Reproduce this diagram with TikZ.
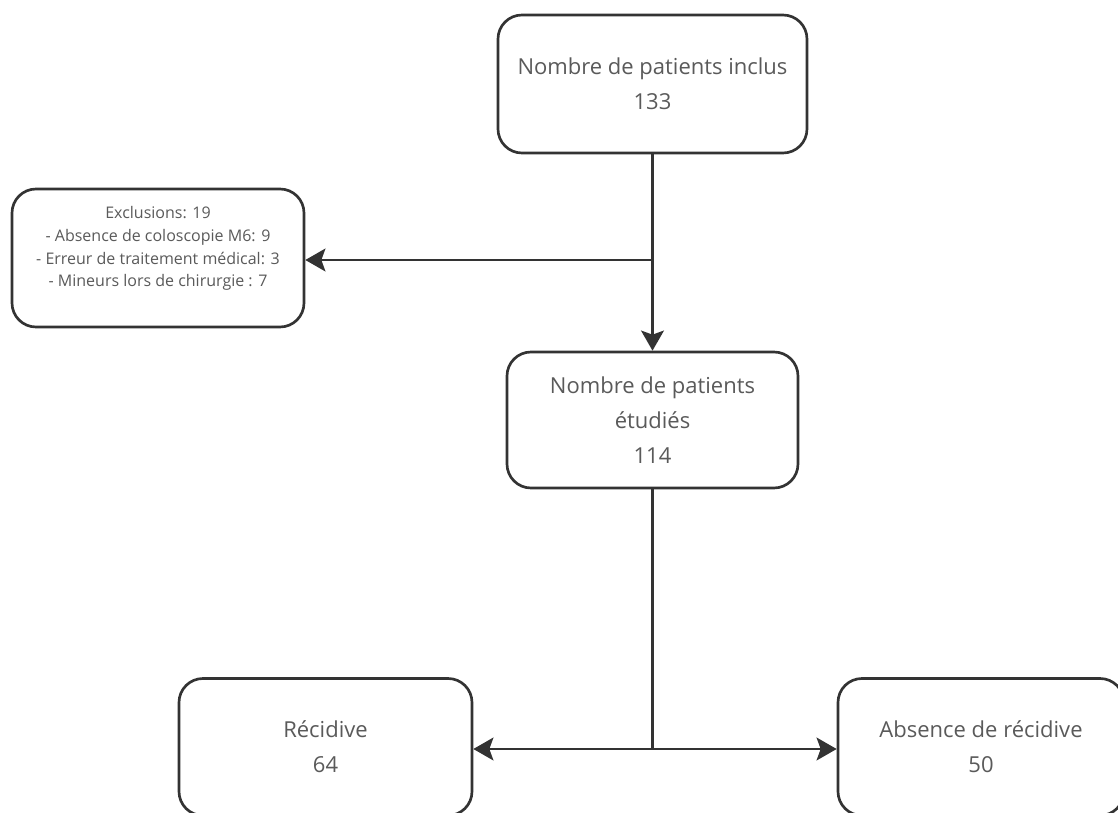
\documentclass[tikz,border=0pt]{standalone}
\usepackage{fontspec}
\setmainfont{Open Sans}
\usetikzlibrary{arrows.meta}
\definecolor{edge}{HTML}{333333}
\definecolor{txt}{HTML}{5A5A5A}
\begin{document}
\begin{tikzpicture}[x=0.75pt,y=-0.75pt,
  box/.style={draw=edge, line width=2pt, rounded corners=18pt, align=center,
    text=txt, inner sep=0pt, font=\fontsize{16.5}{26}\selectfont},
  smallbox/.style={box, font=\fontsize{12}{17}\selectfont},
  conn/.style={draw=edge, line width=2.2pt},
  arr/.style={conn, -{Stealth[length=15pt,width=17pt,inset=3pt]}}]
\clip (0,0) rectangle (1118,813);
\fill[white] (0,0) rectangle (1118,813);
\node[box, minimum width=231.75pt, minimum height=103.5pt] (top) at (652.5,84)
  {Nombre de patients inclus\\133};
\node[smallbox, minimum width=219pt, minimum height=103.5pt] (excl) at (158,258)
  {Exclusions: 19\\- Absence de coloscopie M6: 9\\- Erreur de traitement médical: 3\\- Mineurs lors de chirurgie : 7\\\mbox{}};
\node[box, minimum width=218.25pt, minimum height=102pt] (stud) at (652.5,420)
  {Nombre de patients\\étudiés\\114};
\node[box, minimum width=219.75pt, minimum height=102.75pt] (recid) at (325.5,747)
  {Récidive\\64};
\node[box, minimum width=214.5pt, minimum height=102.75pt] (abs) at (981,747)
  {Absence de récidive\\50};
\coordinate (j1) at (652.5,260);
\coordinate (j2) at (652.5,749);
\draw[arr] (top.south) -- (stud.north);
\draw[arr] (j1) -- (excl.east |- j1);
\draw[draw=edge, line width=1.6pt] (stud.south) -- (j2);
\draw[arr] (j2) -- (recid.east |- j2);
\draw[arr] (j2) -- (abs.west |- j2);
\end{tikzpicture}
\end{document}
